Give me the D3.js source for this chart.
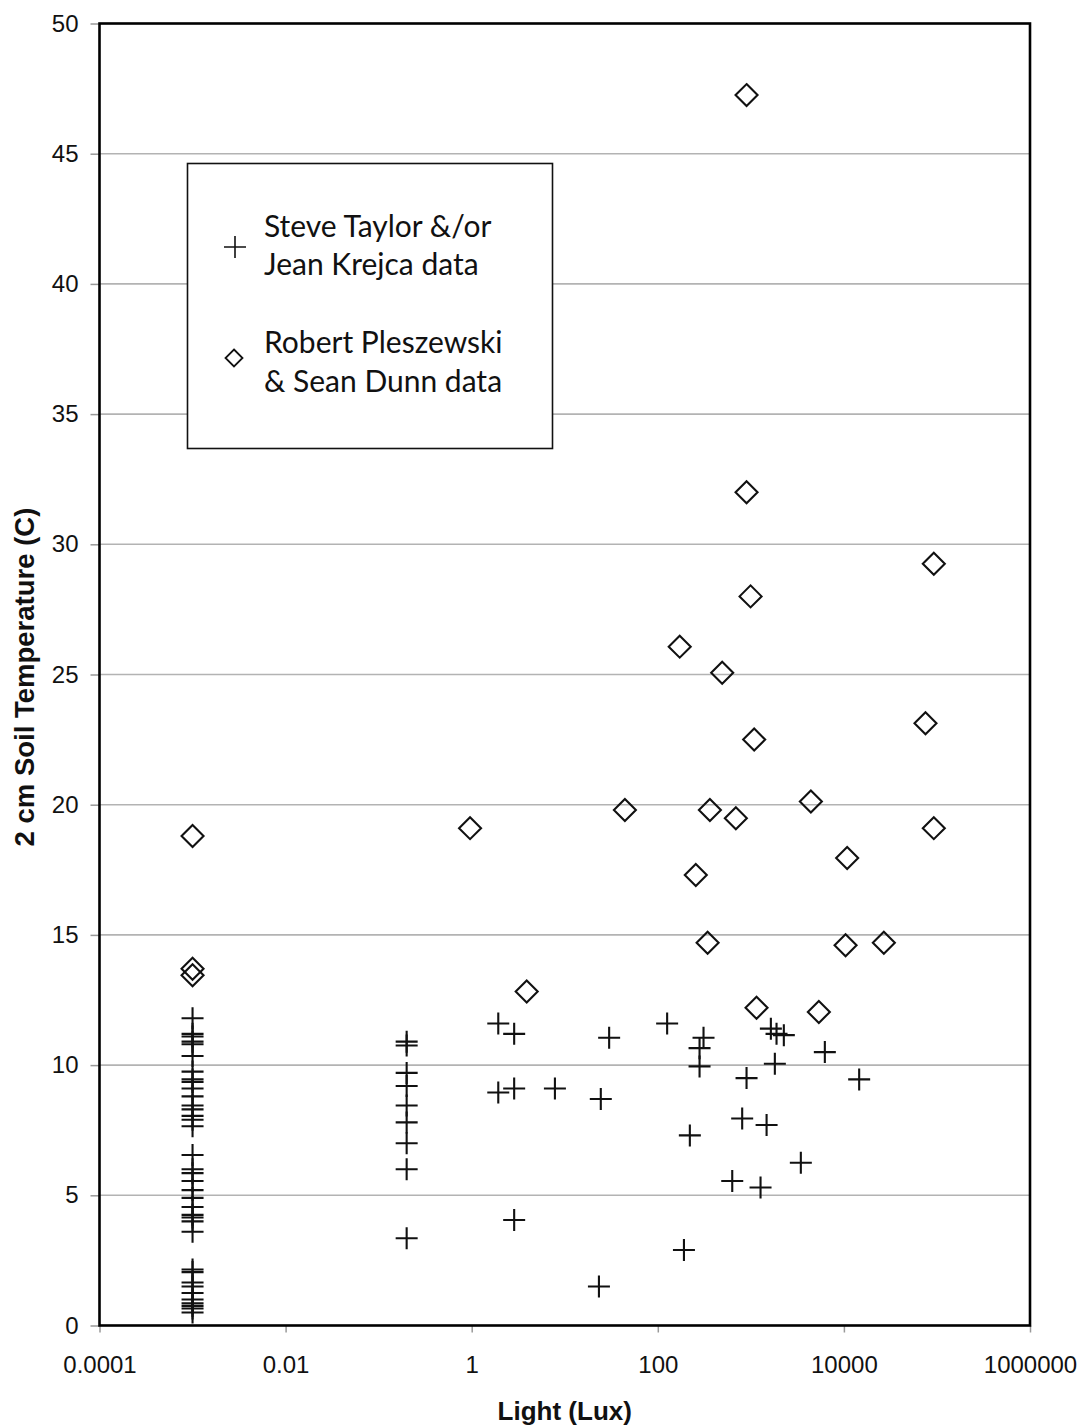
<!DOCTYPE html>
<html>
<head>
<meta charset="utf-8">
<script src="https://cdn.jsdelivr.net/npm/d3@7"></script>
<style>
  html, body { margin: 0; padding: 0; background: #fff; }
  svg { display: block; }
</style>
</head>
<body>
<svg id="chart" width="1082" height="1427"></svg>
<script>
// ---------- DATA ----------
const xTicks = [0.0001, 0.01, 1, 100, 10000, 1000000];
const xTickLabels = ["0.0001", "0.01", "1", "100", "10000", "1000000"];
const yTicks = [0, 5, 10, 15, 20, 25, 30, 35, 40, 45, 50];

// Steve Taylor &/or Jean Krejca data  (light lux, soil temp C)
const taylorLux = [
  0.001,0.001,0.001,0.001,0.001,0.001,0.001,0.001,0.001,0.001,
  0.001,0.001,0.001,0.001,0.001,0.001,0.001,0.001,0.001,0.001,
  0.001,0.001,0.001,0.001,0.001,0.001,0.001,0.001,0.001,0.001,
  0.001,0.001,0.001,0.001,0.001,0.001,0.001,
  0.2,0.2,0.2,0.2,0.2,0.2,0.2,0.2,0.2,
  1.93,2.86,30,126,1.93,2.86,7.84,24.4,2.86,23.3,
  310,281,281,899,1641,1888,2262,1811,6240,14590,
  221,807,1476,3445,631,1271,191
];
const taylorTemp = [
  11.8,11.2,11.1,10.9,10.8,10.35,9.75,9.45,9.35,9.1,
  8.8,8.45,8.3,8.05,7.9,7.65,6.55,6.0,5.85,5.55,
  5.2,4.9,4.55,4.25,4.15,4.0,3.6,2.15,2.05,1.65,
  1.5,1.25,1.0,0.85,0.75,0.65,0.5,
  10.9,10.75,9.7,9.2,8.45,7.8,7.0,6.0,3.35,
  11.6,11.2,11.05,11.6,8.95,9.1,9.1,8.7,4.05,1.5,
  11.05,10.65,9.95,9.5,11.4,11.2,11.15,10.05,10.5,9.45,
  7.3,7.95,7.7,6.25,5.55,5.3,2.9
];

// Robert Pleszewski & Sean Dunn data
const pleszLux = [
  0.001,0.001,0.001,0.96,3.9,44.3,172,256,343,363,
  492,690,899,899,993,1086,1151,4416,5380,10420,
  10840,26870,75300,92500,92500
];
const pleszTemp = [
  18.8,13.7,13.45,19.1,12.83,19.8,26.07,17.3,14.7,19.8,
  25.07,19.48,47.25,32.0,28.0,22.5,12.2,20.12,12.04,14.6,
  17.95,14.7,23.13,29.25,19.1
];

const legendLabels = [
  ["Steve Taylor &/or", "Jean Krejca data"],
  ["Robert Pleszewski", "& Sean Dunn data"]
];
const xTitle = "Light (Lux)";
const yTitle = "2 cm Soil Temperature (C)";

// ---------- LAYOUT ----------
const plotLeft = 99.5, plotRight = 1030, plotTop = 23.5, plotBottom = 1325.5;
const svg = d3.select("#chart");

const x = d3.scaleLog().domain([1e-4, 1e6]).range([plotLeft, plotRight]);
const y = d3.scaleLinear().domain([0, 50]).range([plotBottom, plotTop]);

const axisFont = "'Liberation Sans', Arial, Helvetica, sans-serif";
const legendFont = "Lato, 'Open Sans', sans-serif";

// gridlines
svg.append("g").selectAll("line")
  .data(yTicks.filter(d => d > 0 && d < 50))
  .join("line")
  .attr("x1", plotLeft).attr("x2", plotRight)
  .attr("y1", d => y(d)).attr("y2", d => y(d))
  .attr("stroke", "#b3b3b3").attr("stroke-width", 1.6);

// y axis
const yAxis = svg.append("g")
  .attr("transform", `translate(${plotLeft},0)`)
  .call(d3.axisLeft(y).tickValues(yTicks).tickSize(9).tickPadding(12).tickFormat(d3.format("d")));
yAxis.select(".domain").remove();
yAxis.selectAll(".tick line").attr("stroke", "#999").attr("stroke-width", 1.5);
yAxis.selectAll(".tick text")
  .attr("font-family", axisFont).attr("font-size", 24).attr("fill", "#111");

// x axis
const xAxis = svg.append("g")
  .attr("transform", `translate(0,${plotBottom})`)
  .call(d3.axisBottom(x).tickValues(xTicks).tickSize(7).tickPadding(23)
    .tickFormat((d, i) => xTickLabels[i]));
xAxis.select(".domain").remove();
xAxis.selectAll(".tick line").attr("stroke", "#999").attr("stroke-width", 1.5);
xAxis.selectAll(".tick text")
  .attr("font-family", axisFont).attr("font-size", 24).attr("fill", "#111");

// frame
svg.append("rect")
  .attr("x", plotLeft).attr("y", plotTop)
  .attr("width", plotRight - plotLeft).attr("height", plotBottom - plotTop)
  .attr("fill", "none").attr("stroke", "#000").attr("stroke-width", 2.6);

// markers
const crossPath = (s) => `M${-s},0H${s}M0,${-s}V${s}`;
const diamondPath = (s) => `M0,${-s}L${s},0L0,${s}L${-s},0Z`;

const taylor = taylorLux.map((v, i) => ({lux: v, t: taylorTemp[i]}));
const plesz = pleszLux.map((v, i) => ({lux: v, t: pleszTemp[i]}));

svg.append("g").selectAll("path")
  .data(taylor).join("path")
  .attr("transform", d => `translate(${x(d.lux)},${y(d.t)})`)
  .attr("d", crossPath(11))
  .attr("fill", "none").attr("stroke", "#111").attr("stroke-width", 2.1);

svg.append("g").selectAll("path")
  .data(plesz).join("path")
  .attr("transform", d => `translate(${x(d.lux)},${y(d.t)})`)
  .attr("d", diamondPath(11))
  .attr("fill", "none").attr("stroke", "#111").attr("stroke-width", 2.1);

// legend
const lg = svg.append("g");
lg.append("rect")
  .attr("x", 187.5).attr("y", 163.5).attr("width", 365).attr("height", 285)
  .attr("fill", "#fff").attr("stroke", "#111").attr("stroke-width", 1.6);
lg.append("path").attr("transform", "translate(235,247)").attr("d", crossPath(11))
  .attr("fill", "none").attr("stroke", "#111").attr("stroke-width", 1.6);
lg.append("path").attr("transform", "translate(234,358)").attr("d", diamondPath(8.5))
  .attr("fill", "none").attr("stroke", "#111").attr("stroke-width", 1.8);
const baselines = [[237, 275], [353, 392]];
legendLabels.forEach((lines, i) => {
  lines.forEach((txt, j) => {
    lg.append("text")
      .attr("x", 264).attr("y", baselines[i][j])
      .attr("font-family", legendFont).attr("font-size", 30)
      .attr("fill", "#111").text(txt);
  });
});

// axis titles
svg.append("text")
  .attr("x", (plotLeft + plotRight) / 2).attr("y", 1419.5)
  .attr("text-anchor", "middle")
  .attr("font-family", axisFont).attr("font-weight", "bold").attr("font-size", 26)
  .attr("fill", "#111").text(xTitle);

svg.append("text")
  .attr("transform", "translate(33.5,677) rotate(-90)")
  .attr("text-anchor", "middle")
  .attr("font-family", axisFont).attr("font-weight", "bold").attr("font-size", 27.5)
  .attr("fill", "#111").text(yTitle);
</script>
</body>
</html>
